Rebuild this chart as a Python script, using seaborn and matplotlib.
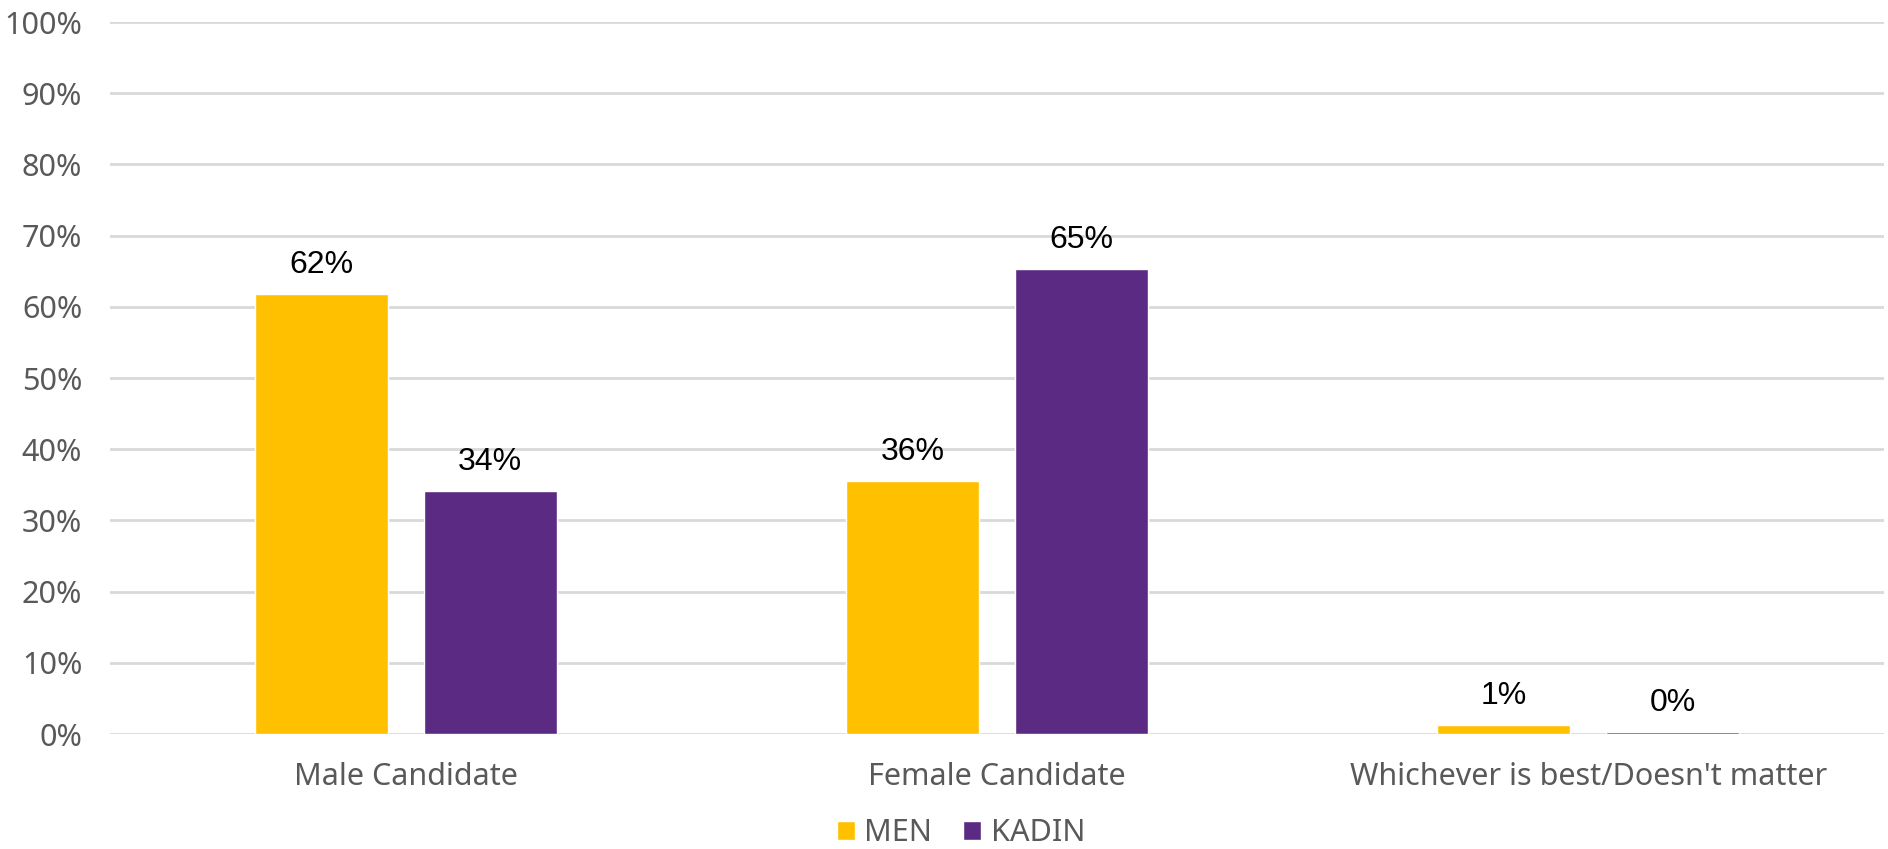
import pandas as pd
import matplotlib.pyplot as plt
import seaborn as sns

# values
categories = ["Male Candidate", "Female Candidate", "Whichever is best/Doesn't matter"]
men = [61.8, 35.6, 1.3]
kadin = [34.1, 65.3, 0.3]
series = ["MEN", "KADIN"]
men_labels = ["62%", "36%", "1%"]
kadin_labels = ["34%", "65%", "0%"]

df = pd.DataFrame({
    "category": categories * 2,
    "group": [series[0]] * 3 + [series[1]] * 3,
    "value": men + kadin,
})

sns.set_theme(style="white")
plt.rcParams['font.family'] = ['Noto Sans', 'DejaVu Sans']

fig, ax = plt.subplots(figsize=(18.88, 8.49), dpi=100)
fig.subplots_adjust(left=110/1888, right=1884/1888, top=1-22/849, bottom=1-734/849)

ax.yaxis.grid(True, color="#d9d9d9", linewidth=2)
ax.set_axisbelow(True)

sns.barplot(data=df, x="category", y="value", hue="group", order=categories,
            hue_order=series, palette=["#ffc000", "#5b2a82"], saturation=1,
            width=0.572, gap=0.214, ax=ax, legend=True)

for cont, labs in zip(ax.containers, [men_labels, kadin_labels]):
    ax.bar_label(cont, labels=labs, padding=10, fontsize=23, color="black",
                 family="Liberation Sans")

ax.set_ylim(0, 100)
ax.set_yticks(range(0, 101, 10))
ax.set_yticklabels([f"{v}%" for v in range(0, 101, 10)])
ax.tick_params(axis="both", labelsize=22, labelcolor="#595959", length=0)
ax.tick_params(axis="x", pad=20)
ax.tick_params(axis="y", pad=20)
ax.set_xlabel("")
ax.set_ylabel("")
sns.despine(ax=ax, left=True, bottom=True, top=True, right=True)

handles, labels = ax.get_legend_handles_labels()
ax.get_legend().remove()
leg = fig.legend(handles, labels, loc="center", bbox_to_anchor=(0.509, 1 - 833/849), ncol=2,
                 frameon=False, fontsize=22, handlelength=0.6, handleheight=0.6,
                 handletextpad=0.3, columnspacing=1.0)
for t in leg.get_texts():
    t.set_color("#595959")

fig.savefig("out.png", dpi=100)
